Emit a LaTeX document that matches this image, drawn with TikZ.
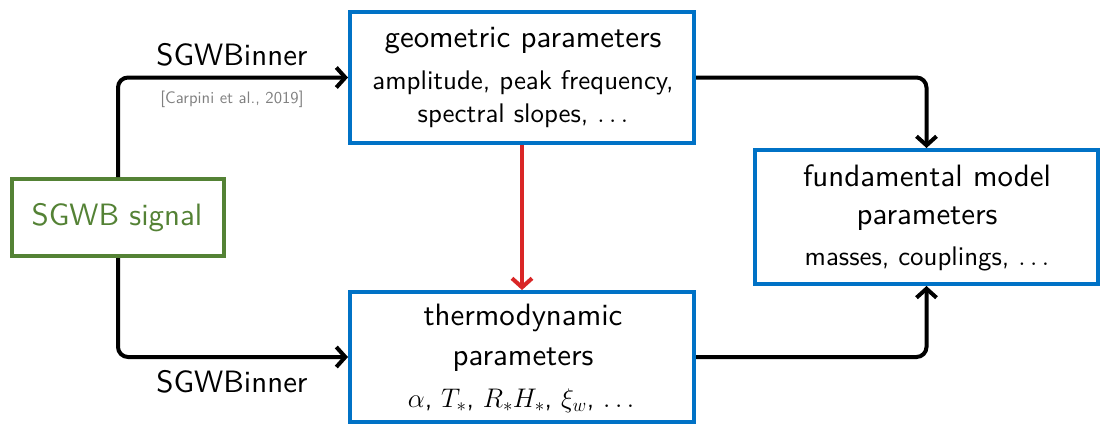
\RequirePackage{fix-cm}
\documentclass[tikz,border=0pt]{standalone}
\usepackage{fontspec}
\setsansfont{lmsans10-regular.otf}
\usetikzlibrary{arrows.meta}
\definecolor{boxblue}{RGB}{0,114,198}
\definecolor{sgreen}{RGB}{84,130,53}
\definecolor{ared}{RGB}{217,38,38}
\definecolor{citegray}{RGB}{128,128,128}
\newcommand\bigf{\fontsize{31}{37}\selectfont}
\newcommand\subf{\fontsize{27}{33}\selectfont}
\newcommand\citef{\fontsize{16.7}{20}\selectfont}
\begin{document}
\begin{tikzpicture}[x=1bp,y=-1bp,font=\sffamily,
  box/.style={draw=boxblue,line width=4bp,minimum width=344bp,minimum height=131bp,inner sep=0pt},
  gbox/.style={draw=sgreen,line width=4bp,minimum width=212bp,minimum height=77bp,inner sep=0pt},
  bigtxt/.style={anchor=base,font=\sffamily\bigf,inner sep=0pt},
  subtxt/.style={anchor=base,font=\sffamily\subf,inner sep=0pt},
  arr/.style={line width=4bp,rounded corners=10bp,-{Straight Barb[length=9bp,width=20bp]}}]
\useasboundingbox (0,0) rectangle (1101,426);
% boxes
\node[gbox] (sig) at (118,217.5) {};
\node[box] (geo) at (522,77.5) {};
\node[box,minimum height=130bp] (thermo) at (522,357) {};
\node[box,minimum width=343bp,minimum height=134bp] (fund) at (926.5,217) {};
% texts
\node[bigtxt,text=sgreen] (sigT) at (117,225) {SGWB signal};
\node[bigtxt] (geoT) at (523,47) {geometric parameters};
\node[subtxt] (geoA) at (523,89) {amplitude, peak frequency,};
\node[subtxt] (geoB) at (523,122) {spectral slopes, $\ldots$};
\node[bigtxt] (thT) at (523,325) {thermodynamic};
\node[bigtxt] (thP) at (523,365) {parameters};
\node[subtxt] (thM) at (521,407) {$\alpha$, $T_*$, $R_*H_*$, $\xi_w$, $\ldots$};
\node[bigtxt] (fuT) at (927,186) {fundamental model};
\node[bigtxt] (fuP) at (927,224) {parameters};
\node[subtxt] (fuM) at (927,265) {masses, couplings, $\ldots$};
\node[bigtxt] (lab1) at (232,65) {SGWBinner};
\node[anchor=base,font=\sffamily\citef,text=citegray,inner sep=0pt] (cite) at (232,103) {[Carpini et al., 2019]};
\node[bigtxt] (lab2) at (232,392) {SGWBinner};
% connectors
\draw[arr] (sig.north) |- (geo.west);
\draw[arr] (sig.south) |- (thermo.west);
\draw[arr] (geo.east) -| (fund.north);
\draw[arr] (thermo.east) -| (fund.south);
\draw[arr,draw=ared] (geo.south) -- (thermo.north);
\end{tikzpicture}
\end{document}
